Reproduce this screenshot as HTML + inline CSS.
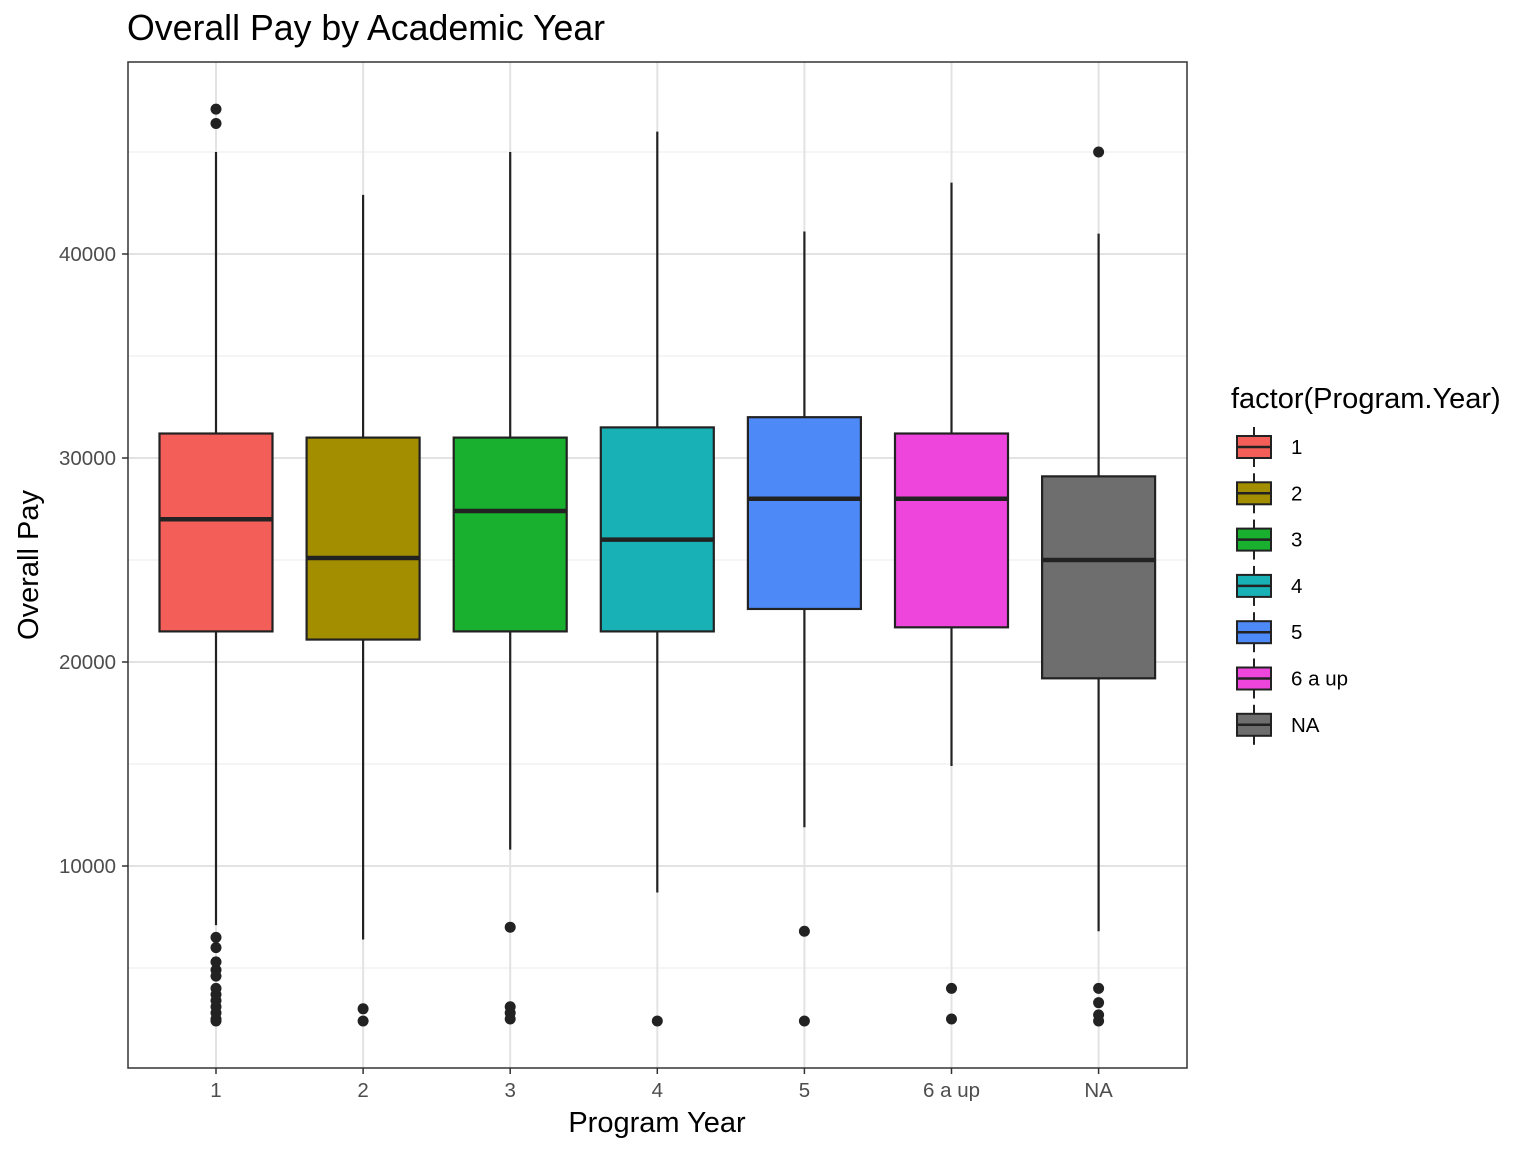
<!DOCTYPE html>
<html><head><meta charset="utf-8"><style>body{margin:0;background:#fff}svg text{font-family:"Liberation Sans",Arial,sans-serif}</style></head>
<body>
<svg id="chart" width="1536" height="1152" xmlns="http://www.w3.org/2000/svg">
<text x="127" y="40" font-size="35.7" fill="#000">Overall Pay by Academic Year</text>
<g id="plot"></g>
<text x="657" y="1132" font-size="29" text-anchor="middle" fill="#000">Program Year</text>
<text transform="translate(38,565) rotate(-90)" font-size="29" text-anchor="middle" fill="#000">Overall Pay</text>
<text x="1231" y="408" font-size="29" fill="#000">factor(Program.Year)</text>
<g id="legend"></g>
</svg>
<script>
const categories=["1","2","3","4","5","6 a up","NA"];
const colors=["#F35F58","#A38E00","#19B02F","#18B2B6","#4E89F8","#EE45DC","#6E6E6E"];
const lowWhisker=[7100,6400,10800,8700,11900,14900,6800];
const q1=[21500,21100,21500,21500,22600,21700,19200];
const median=[27000,25100,27400,26000,28000,28000,25000];
const q3=[31200,31000,31000,31500,32000,31200,29100];
const highWhisker=[45000,42900,45000,46000,41100,43500,41000];
const outliers=[[47100,46400,6500,6000,5300,4900,4600,4000,3700,3400,3100,2800,2500,2400],[3000,2400],[7000,3100,2800,2500],[2400],[6800,2400],[4000,2500],[45000,4000,3300,2700,2400]];
const yTicks=[10000,20000,30000,40000];
const yMinor=[5000,15000,25000,35000,45000];
const NS="http://www.w3.org/2000/svg";
const L=128,R=1187,T=62,B=1068;
const y=v=>866-(v-10000)*0.0204;
const x=i=>216+i*147.1;
const g=document.getElementById('plot');
function mk(tag,a,p){const e=document.createElementNS(NS,tag);for(const k in a)e.setAttribute(k,a[k]);(p||g).appendChild(e);return e;}
yMinor.forEach(v=>{const e=mk('line',{x1:L,x2:R,y1:y(v),y2:y(v),stroke:'#ebebeb','stroke-width':1});

});
yTicks.forEach(v=>{const e=mk('line',{x1:L,x2:R,y1:y(v),y2:y(v),stroke:'#e3e3e3','stroke-width':2});


const tk=mk('line',{x1:L-6,x2:L,y1:y(v),y2:y(v),stroke:'#333','stroke-width':1.5});


const t=mk('text',{x:L-12,y:y(v)+7,'font-size':20.5,'text-anchor':'end',fill:'#4d4d4d'});t.textContent=v;

});
categories.forEach((c,i)=>{const e=mk('line',{x1:x(i),x2:x(i),y1:T,y2:B,stroke:'#e3e3e3','stroke-width':2});

});
categories.forEach((c,i)=>{
const grp=mk('g',{});


const cx=x(i),w=56.5;
mk('line',{x1:cx,x2:cx,y1:y(highWhisker[i]),y2:y(q3[i]),stroke:'#222','stroke-width':2.2},grp);
mk('line',{x1:cx,x2:cx,y1:y(q1[i]),y2:y(lowWhisker[i]),stroke:'#222','stroke-width':2.2},grp);
mk('rect',{x:cx-w,y:y(q3[i]),width:2*w,height:y(q1[i])-y(q3[i]),fill:colors[i],stroke:'#222','stroke-width':2.2},grp);
mk('line',{x1:cx-w,x2:cx+w,y1:y(median[i]),y2:y(median[i]),stroke:'#222','stroke-width':4.5},grp);
outliers[i].forEach(v=>{const d=mk('circle',{cx:cx,cy:y(v),r:5.5,fill:'#222'},grp);

});
const tk=mk('line',{x1:cx,x2:cx,y1:B,y2:B+6,stroke:'#333','stroke-width':1.5});


const t=mk('text',{x:cx,y:B+29,'font-size':20.5,'text-anchor':'middle',fill:'#4d4d4d'});t.textContent=c;


});
const fr=mk('rect',{x:L,y:T,width:R-L,height:B-T,fill:'none',stroke:'#333','stroke-width':1.5});


const lg=document.getElementById('legend');
categories.forEach((c,i)=>{
const cy=447+i*46.3;
const grp=mk('g',{},lg);


mk('line',{x1:1254,x2:1254,y1:cy-20,y2:cy+20,stroke:'#222','stroke-width':2},grp);
mk('rect',{x:1237,y:cy-11,width:34,height:22,fill:colors[i],stroke:'#222','stroke-width':2},grp);
mk('line',{x1:1237,x2:1271,y1:cy,y2:cy,stroke:'#222','stroke-width':2.5},grp);
const t=mk('text',{x:1291,y:cy+7,'font-size':20.5,fill:'#000'},grp);t.textContent=c;
});
</script>
</body></html>
